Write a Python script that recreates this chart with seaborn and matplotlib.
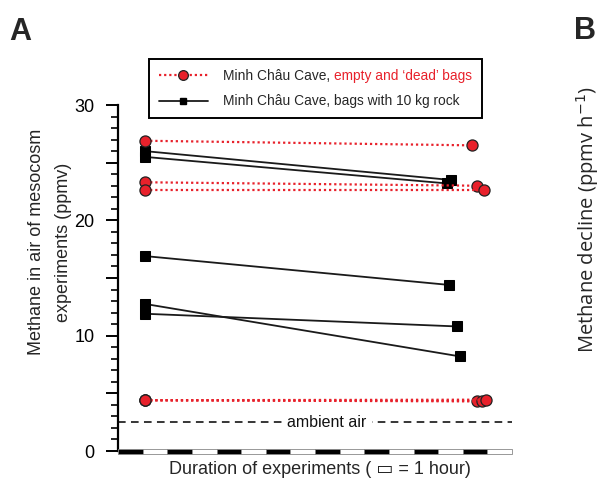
import matplotlib
matplotlib.use("Agg")
import matplotlib.pyplot as plt
import seaborn as sns
import pandas as pd
import numpy as np
from matplotlib.lines import Line2D
from matplotlib.ticker import MultipleLocator, FuncFormatter
from matplotlib.offsetbox import TextArea, HPacker

sns.set_theme(style="white")
plt.rcParams['font.family'] = ['Liberation Sans', 'DejaVu Sans']

# ---- data ----
start_hour = 1.1
rock_start = [26.0, 25.5, 16.9, 12.75, 11.9]
rock_end = [23.5, 23.2, 14.4, 8.2, 10.8]
rock_end_hour = [13.52, 13.36, 13.44, 13.89, 13.77]

empty_start = [26.9, 23.3, 22.6, 4.4, 4.4, 4.4]
empty_end = [26.5, 23.0, 22.6, 4.35, 4.3, 4.45]
empty_end_hour = [14.38, 14.58, 14.86, 14.58, 14.78, 14.94]

ambient_air = 2.5
n_hours = 16

legend_labels = ["Minh Châu Cave,", "Minh Châu Cave, bags with 10 kg rock"]
legend_red_part = "empty and ‘dead’ bags"

RED = "#e8212b"
LEG_FS = 9.9

def long_form(starts, ends, end_hours, prefix):
    rows = []
    for i, (s, e, h) in enumerate(zip(starts, ends, end_hours)):
        rows.append({"bag": f"{prefix}{i}", "hour": start_hour, "ch4": s})
        rows.append({"bag": f"{prefix}{i}", "hour": h, "ch4": e})
    return pd.DataFrame(rows)

df_rock = long_form(rock_start, rock_end, rock_end_hour, "r")
df_empty = long_form(empty_start, empty_end, empty_end_hour, "e")

fig = plt.figure(figsize=(6.05, 4.87), dpi=100)
ax = fig.add_axes([118/605, 1-451/487, (512-118)/605, (451-105)/487])

sns.lineplot(data=df_rock, x="hour", y="ch4", units="bag", estimator=None,
             color="#1a1a1a", lw=1.3, marker="s", markersize=6.5,
             markeredgecolor="black", markerfacecolor="black", ax=ax, legend=False)
sns.lineplot(data=df_empty, x="hour", y="ch4", units="bag", estimator=None,
             color=RED, lw=1.6, linestyle=(0, (1, 1.3)), marker="o", markersize=8,
             markeredgecolor="#222222", markeredgewidth=0.9, markerfacecolor=RED,
             ax=ax, legend=False)

# ambient air
ax.axhline(ambient_air, color="black", lw=1.1, linestyle=(0, (5, 3.5)), zorder=1)
ax.text(8.49, ambient_air, "ambient air", ha="center", va="center", fontsize=11.5,
        color="#111111",
        bbox=dict(facecolor="white", edgecolor="none", pad=4))

# time bar along x axis
hours = np.arange(n_hours)
bar_colors = ["black" if h % 2 == 0 else "white" for h in hours]
ax.bar(hours, 0.42, width=1.0, bottom=-0.22, align="edge", color=bar_colors,
       edgecolor="#888888", linewidth=0.6, clip_on=False, zorder=3)

ax.set_xlim(0, n_hours)
ax.set_ylim(0, 30)
for s in ["top", "right", "bottom"]:
    ax.spines[s].set_visible(False)
ax.spines["left"].set_color("black")
ax.spines["left"].set_linewidth(1.6)
ax.set_xticks([])
ax.yaxis.set_major_locator(MultipleLocator(5))
ax.yaxis.set_minor_locator(MultipleLocator(1))
ax.yaxis.set_major_formatter(FuncFormatter(lambda v, p: f"{int(v)}" if v % 10 == 0 else ""))
ax.tick_params(axis="y", which="major", direction="out", length=9, width=1.4,
               labelsize=13, pad=8, colors="black", left=True)
ax.tick_params(axis="y", which="minor", direction="out", length=5, width=1.2,
               colors="black", left=True)
ax.set_xlabel("")
ax.set_ylabel("")

# legend
handles = [
    Line2D([], [], color=RED, lw=1.6, linestyle=(0, (1, 1.3)), marker="o",
           markersize=7, markerfacecolor=RED, markeredgecolor="#222222", markeredgewidth=0.9),
    Line2D([], [], color="#1a1a1a", lw=1.3, marker="s", markersize=5,
           markerfacecolor="black", markeredgecolor="black"),
]
leg = fig.legend(handles, legend_labels, loc="upper left",
                 bbox_to_anchor=(149/605, 1-59/487), bbox_transform=fig.transFigure,
                 fontsize=LEG_FS, frameon=True, fancybox=False, borderaxespad=0,
                 handlelength=3.6, handletextpad=1.1, labelspacing=0.85,
                 borderpad=0.7)
leg.get_frame().set_edgecolor("black")
leg.get_frame().set_linewidth(1.4)
leg.get_frame().set_alpha(1)

# append the red part of the first label inside the legend
t0 = leg.get_texts()[0]
for col in leg._legend_handle_box.get_children():
    rows = col.get_children()
    for row in rows:
        kids = row.get_children()
        for i, k in enumerate(kids):
            if isinstance(k, TextArea) and k._text is t0:
                red_ta = TextArea(legend_red_part,
                                  textprops=dict(color=RED, fontsize=LEG_FS))
                pack = HPacker(children=[k, red_ta], sep=LEG_FS * 0.278, pad=0,
                               align="baseline")
                pack.set_figure(fig)
                kids[i] = pack

# axis labels and panel texts
fig.text(320/605, 1-470/487, "Duration of experiments ( ▭ = 1 hour)",
         ha="center", va="center", fontsize=13)
fig.text(50/605, 1-242/487, "Methane in air of mesocosm\nexperiments (ppmv)",
         rotation=90, ha="center", va="center", fontsize=13, linespacing=1.75,
         multialignment="center")
fig.text(9/605, 1-32/487, "A", fontsize=22, fontweight="bold", ha="left", va="center")
fig.text(574/605, 1-31/487, "B", fontsize=22, fontweight="bold", ha="left", va="center")
fig.text(588/605, 1-220/487, "Methane decline (ppmv h$^{-1}$)", rotation=90,
         ha="center", va="center", fontsize=14.5, family=["Open Sans", "DejaVu Sans"])

fig.savefig("out.png", dpi=100)
